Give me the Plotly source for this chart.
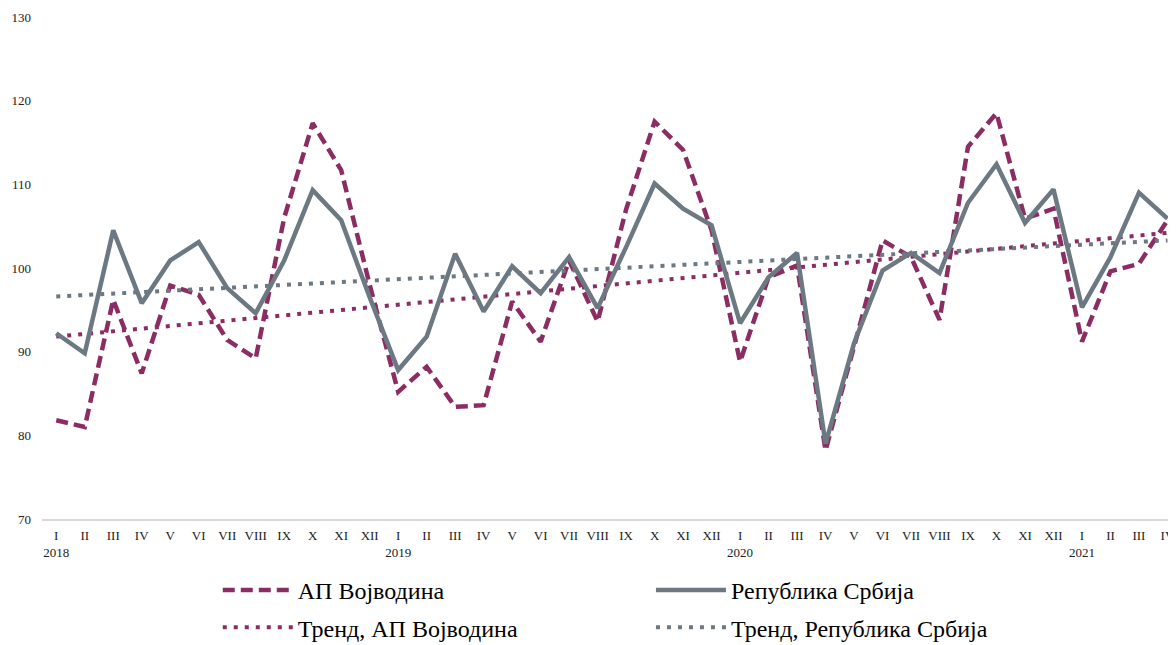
import plotly.graph_objects as go

# ---- data ----
month_labels = ["I", "II", "III", "IV", "V", "VI", "VII", "VIII", "IX", "X", "XI", "XII",
                "I", "II", "III", "IV", "V", "VI", "VII", "VIII", "IX", "X", "XI", "XII",
                "I", "II", "III", "IV", "V", "VI", "VII", "VIII", "IX", "X", "XI", "XII",
                "I", "II", "III", "IV"]
year_labels = {0: "2018", 12: "2019", 24: "2020", 36: "2021"}

vojvodina = [81.8, 81.0, 96.2, 87.4, 97.9, 96.8, 91.4, 89.2, 106.0, 117.3, 111.7, 98.0,
             85.2, 88.2, 83.4, 83.6, 96.0, 91.2, 100.9, 93.6, 107.0, 117.5, 114.1, 104.5,
             88.8, 98.9, 100.3, 78.2, 90.6, 103.3, 101.3, 93.8, 114.5, 118.5, 105.9, 107.1,
             91.2, 99.6, 100.5, 105.7]

serbia = [92.2, 89.8, 104.5, 95.8, 100.9, 103.1, 97.6, 94.6, 100.9, 109.3, 105.7, 96.5,
          87.8, 91.8, 101.7, 94.8, 100.2, 97.0, 101.3, 95.2, 102.5, 110.1, 107.1, 105.1,
          93.4, 98.9, 101.8, 79.0, 91.0, 99.7, 101.8, 99.4, 107.8, 112.4, 105.4, 109.4,
          95.3, 101.3, 109.0, 105.9]

trend_x = [0, 39]
trend_vojvodina = [91.8, 104.2]
trend_serbia = [96.6, 103.3]

# ---- styling ----
MAROON = "#8B2D62"
GRAY = "#6C7882"
FONT = "Liberation Serif"

x = list(range(len(month_labels)))
ticktext = [m + ("<br>" + year_labels[i] if i in year_labels else "") for i, m in enumerate(month_labels)]

fig = go.Figure()
fig.add_trace(go.Scatter(x=x, y=vojvodina, mode="lines", name="АП Војводина",
                         line=dict(color=MAROON, width=4.5, dash="12px,6px"),
                         legend="legend", legendgroup="a"))
fig.add_trace(go.Scatter(x=trend_x, y=trend_vojvodina, mode="lines", name="Тренд, АП Војводина",
                         line=dict(color=MAROON, width=4, dash="4px,7px"),
                         legend="legend", legendgroup="b"))
fig.add_trace(go.Scatter(x=x, y=serbia, mode="lines", name="Република Србија",
                         line=dict(color=GRAY, width=4.5),
                         legend="legend2", legendgroup="c"))
fig.add_trace(go.Scatter(x=trend_x, y=trend_serbia, mode="lines", name="Тренд, Република Србија",
                         line=dict(color=GRAY, width=4, dash="4px,7px"),
                         legend="legend2", legendgroup="d"))

legend_common = dict(font=dict(family=FONT, size=24, color="#000"),
                     orientation="v", yref="container", yanchor="top", y=0.121,
                     xanchor="left", itemwidth=70, tracegroupgap=3,
                     bgcolor="rgba(0,0,0,0)")

fig.update_layout(
    width=1168, height=637,
    margin=dict(l=34, r=0, t=9, b=126),
    paper_bgcolor="white", plot_bgcolor="white",
    font=dict(family=FONT, size=13, color="#222"),
    showlegend=True,
    legend=dict(x=0.155, **legend_common),
    legend2=dict(x=0.537, **legend_common),
    xaxis=dict(range=[-0.5, 39.3], tickmode="array", tickvals=x, ticktext=ticktext,
               showgrid=False, zeroline=False, showline=True, linecolor="#D9D9D9",
               linewidth=1.5, ticks="", tickangle=0, ticklabelstandoff=4,
               tickfont=dict(family=FONT, size=13, color="#222")),
    yaxis=dict(range=[70, 130], dtick=10, showgrid=False, zeroline=False,
               showline=False, ticks="", ticklabelstandoff=10,
               tickfont=dict(family=FONT, size=13, color="#222")),
)

fig.write_html("out.html")
